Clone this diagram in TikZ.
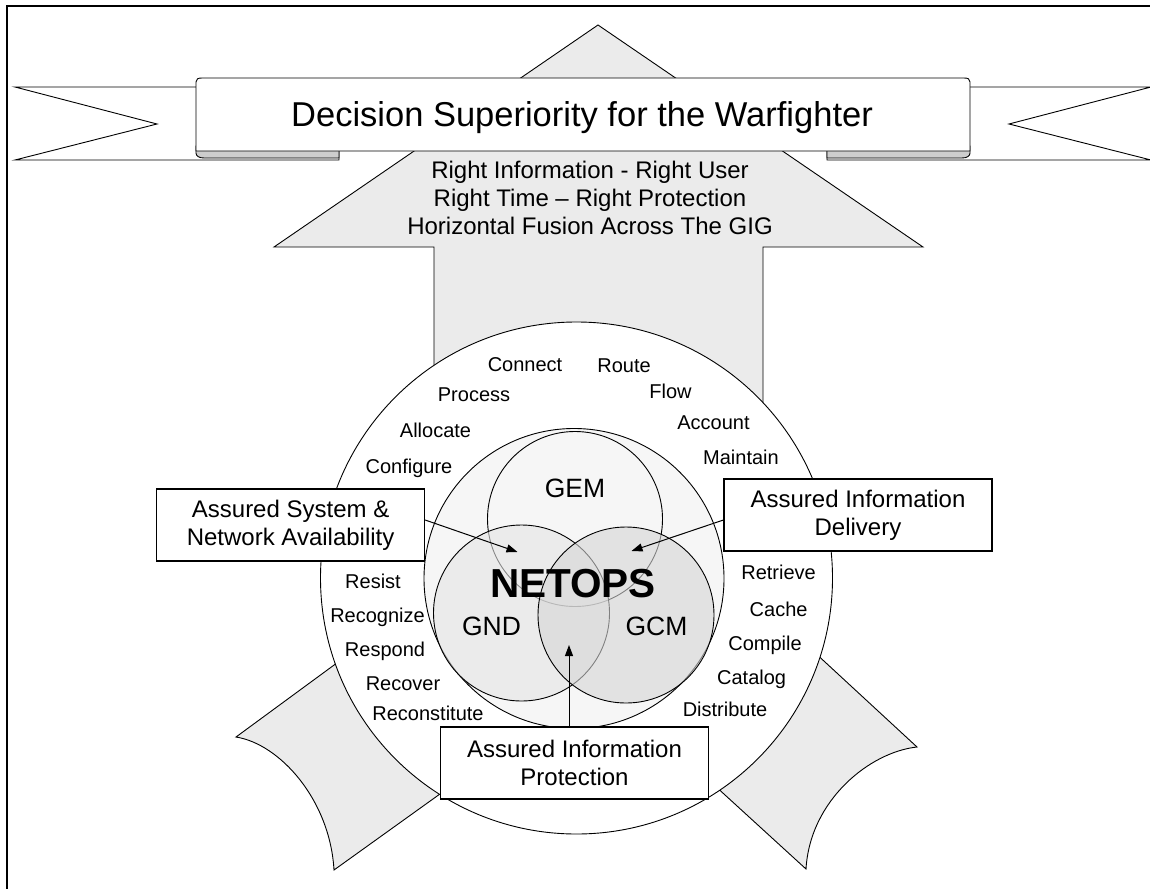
\documentclass[tikz,border=0pt]{standalone}
\usepackage{fontspec}
\setmainfont{Liberation Sans}
\usetikzlibrary{arrows.meta}
\begin{document}
\begin{tikzpicture}[x=1pt,y=-1pt,
  thinline/.style={draw=black,line width=0.9pt},
  grayfill/.style={fill=arrowgray,draw=black,line width=0.9pt},
  word/.style={anchor=base,font=\fontsize{20}{24}\selectfont,inner sep=0pt},
  vennlabel/.style={anchor=base,font=\fontsize{26.5}{30}\selectfont,inner sep=0pt},
  subtitle/.style={anchor=base,font=\fontsize{24}{28}\selectfont,inner sep=0pt},
  boxnode/.style={draw=black,line width=1.1pt,fill=white,minimum width=268pt,minimum height=72pt,align=center,font=\fontsize{24}{28}\selectfont,inner sep=0pt},
  arr/.style={-{Triangle[length=11pt,width=8pt]},line width=1pt}]
\definecolor{arrowgray}{HTML}{EBEBEB}
\definecolor{foldgray}{HTML}{CDCDCD}
\definecolor{midfill}{HTML}{F6F6F6}
\definecolor{gndfill}{rgb}{0.9,0.9,0.9}
\definecolor{gcmfill}{rgb}{0.84,0.84,0.84}
\useasboundingbox (0,0) rectangle (1150,888);
\clip (0,0) rectangle (1150,888);
% frame
\draw[line width=2pt] (7,6) rectangle (1200,950);
% big up arrow
\draw[grayfill,line join=miter] (434,500) -- (434,247) -- (274,247) -- (598,25) -- (923,247) -- (763,247) -- (763,500) -- cycle;
% banner tails
\draw[thinline,fill=white] (339,87) -- (15,87) -- (157,124) -- (15,160) -- (339,160) -- cycle;
\draw[thinline,fill=white] (827,87) -- (1151,87) -- (1009,124) -- (1151,160) -- (827,160) -- cycle;
% folds
\draw[thinline,fill=foldgray] (339,146) -- (339,158) -- (204,158) .. controls (199,158) and (196,156) .. (196,153) -- (196,146) -- cycle;
\draw[thinline,fill=foldgray] (827,146) -- (827,158) -- (962,158) .. controls (967,158) and (970,156) .. (970,153) -- (970,146) -- cycle;
% main banner
\draw[thinline,fill=white] (196,151) -- (196,82) .. controls (196,79) and (198,78) .. (202,78) -- (964,78) .. controls (968,78) and (970,79) .. (970,82) -- (970,151) -- cycle;
\node[anchor=base,font=\fontsize{34.5}{40}\selectfont,inner sep=0pt] (title) at (582,127) {Decision Superiority for the Warfighter};
\node[subtitle] (s1) at (590,178) {Right Information - Right User};
\node[subtitle] (s2) at (590,206) {Right Time – Right Protection};
\node[subtitle] (s3) at (590,234) {Horizontal Fusion Across The GIG};
% bottom side shapes
\draw[grayfill] (345,657) -- (236,737) .. controls (280,744) and (330,800) .. (334,870) -- (449,787.5) -- cycle;
\draw[grayfill] (812,650) -- (917,747) .. controls (870,752) and (810,800) .. (806,869) -- (713,784) -- cycle;
% circles
\node[circle,draw=black,line width=0.9pt,fill=white,minimum size=512pt,inner sep=0pt] (outer) at (576.5,578) {};
\node[circle,draw=black,line width=0.9pt,fill=midfill,minimum size=300pt,inner sep=0pt] (mid) at (574,578.5) {};
\node[circle,draw=black,line width=0.9pt,fill=midfill,minimum size=175pt,inner sep=0pt] (gem) at (575,519) {};
\node[circle,draw=black,line width=0.9pt,fill=gndfill,fill opacity=0.6,minimum size=176pt,inner sep=0pt] (gnd) at (521.5,613) {};
\node[circle,draw=black,line width=0.9pt,fill=gcmfill,fill opacity=0.6,minimum size=176pt,inner sep=0pt] (gcm) at (626,615) {};
% labels
\node[vennlabel] (lgem) at (575,497) {GEM};
\node[vennlabel] (lgnd) at (491.5,635) {GND};
\node[vennlabel] (lgcm) at (656.5,635) {GCM};
\node[anchor=base,font=\fontsize{40.5}{46}\selectfont\bfseries,inner sep=0pt] (netops) at (573,597) {NETOPS};
% ring words
\node[word] (w1) at (525,371) {Connect};
\node[word] (w2) at (624,372) {Route};
\node[word] (w3) at (474,401) {Process};
\node[word] (w4) at (670.5,398) {Flow};
\node[word] (w5) at (435.5,437) {Allocate};
\node[word] (w6) at (713.5,429) {Account};
\node[word] (w7) at (409,473) {Configure};
\node[word] (w8) at (741,464) {Maintain};
\node[word] (w9) at (373,588) {Resist};
\node[word] (w10) at (377.5,622) {Recognize};
\node[word] (w11) at (385,656) {Respond};
\node[word] (w12) at (403,690) {Recover};
\node[word] (w13) at (428,720) {Reconstitute};
\node[word] (w14) at (778.6,579) {Retrieve};
\node[word] (w15) at (778.6,616) {Cache};
\node[word] (w16) at (765,650) {Compile};
\node[word] (w17) at (751.6,684) {Catalog};
\node[word] (w18) at (725,716) {Distribute};
% boxes
\node[boxnode] (asna) at (290.6,525) {Assured System \&\\Network Availability};
\node[boxnode] (aid) at (858,515) {Assured Information\\Delivery};
\node[boxnode] (aip) at (574.5,763) {Assured Information\\Protection};
% arrows
\coordinate (tipA) at (517.5,552);
\coordinate (tipB) at (631.5,551);
\coordinate (tipC) at (569,645);
\draw[arr] ([yshift=5pt]asna.east) -- (tipA);
\draw[arr] ([yshift=-5pt]aid.west) -- (tipB);
\draw[arr] ([xshift=-5.5pt]aip.north) -- (tipC);
\end{tikzpicture}
\end{document}
